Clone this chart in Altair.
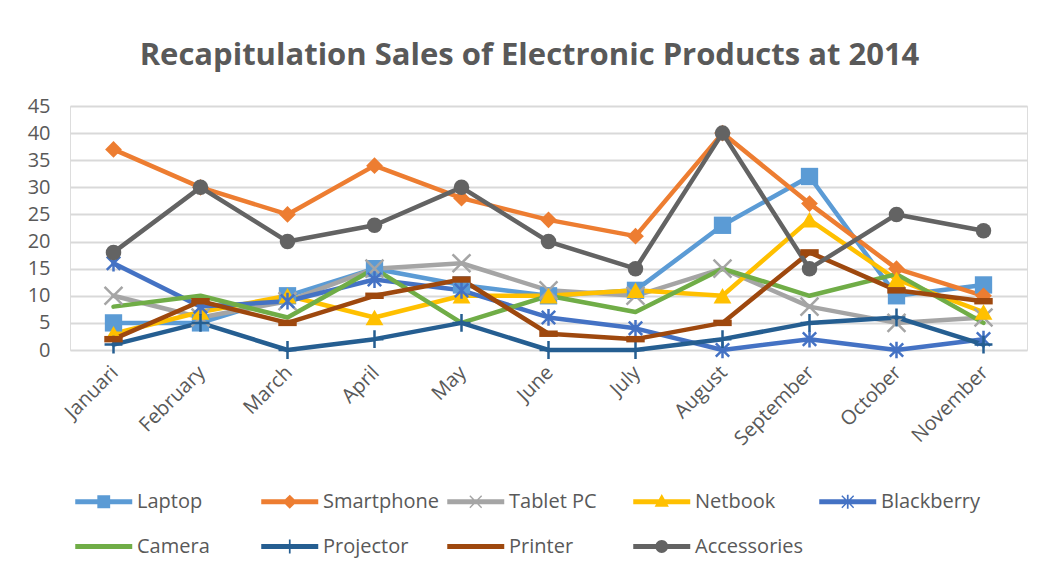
import altair as alt
import pandas as pd

months = ["Januari", "February", "March", "April", "May", "June", "July",
          "August", "September", "October", "November"]
products = ["Laptop", "Smartphone", "Tablet PC", "Netbook", "Blackberry",
            "Camera", "Projector", "Printer", "Accessories"]
colors = ["#5B9BD5", "#ED7D31", "#A5A5A5", "#FFC000", "#4472C4",
          "#70AD47", "#255E91", "#9E480E", "#636363"]

laptop = [5, 5, 10, 15, 12, 10, 11, 23, 32, 10, 12]
smartphone = [37, 30, 25, 34, 28, 24, 21, 40, 27, 15, 10]
tablet_pc = [10, 6, 9, 15, 16, 11, 10, 15, 8, 5, 6]
netbook = [3, 7, 10, 6, 10, 10, 11, 10, 24, 13, 7]
blackberry = [16, 8, 9, 13, 11, 6, 4, 0, 2, 0, 2]
camera = [8, 10, 6, 15, 5, 10, 7, 15, 10, 14, 5]
projector = [1, 5, 0, 2, 5, 0, 0, 2, 5, 6, 1]
printer = [2, 9, 5, 10, 13, 3, 2, 5, 18, 11, 9]
accessories = [18, 30, 20, 23, 30, 20, 15, 40, 15, 25, 22]

series = [laptop, smartphone, tablet_pc, netbook, blackberry,
          camera, projector, printer, accessories]

rows = []
for p, vals in zip(products, series):
    for m, v in zip(months, vals):
        rows.append({"Month": m, "Product": p, "Sales": v})
df = pd.DataFrame(rows)

FONT = "Open Sans"
TXT = "#595959"

color_scale = alt.Scale(domain=products, range=colors)
x_enc = alt.X("Month:N", sort=months,
              scale=alt.Scale(type="point", padding=0.5, domain=months),
              axis=alt.Axis(title=None, labelAngle=315, labelFontSize=20,
                            labelFont=FONT, labelColor=TXT, ticks=False,
                            domain=False, grid=False, labelPadding=12,
                            labelOffset=-6))
y_enc = alt.Y("Sales:Q", scale=alt.Scale(domain=[0, 45], nice=False),
              axis=alt.Axis(title=None, values=list(range(0, 50, 5)),
                            labelFontSize=20, labelFont=FONT, labelColor=TXT,
                            ticks=False, domain=False, grid=True,
                            gridColor="#D9D9D9", gridWidth=2, labelPadding=20))

base = alt.Chart(df)

# legend symbols: line + marker, in units of 14.25 px, spanning -1..3
LINE = "M-1,-0.17H3V0.17H-1Z"
leg_paths = {
    "Laptop": LINE + "M0.55,-0.45H1.45V0.45H0.55Z",
    "Smartphone": LINE + "M1,-0.5L1.5,0L1,0.5L0.5,0Z",
    "Tablet PC": LINE + "M0.62,-0.45L1.45,0.38L1.38,0.45L0.55,-0.38Z"
                 "M1.38,-0.45L1.45,-0.38L0.62,0.45L0.55,0.38Z",
    "Netbook": LINE + "M1,-0.55L1.5,0.35H0.5Z",
    "Blackberry": LINE + "M0.62,-0.45L1.45,0.38L1.38,0.45L0.55,-0.38Z"
                  "M1.38,-0.45L1.45,-0.38L0.62,0.45L0.55,0.38Z"
                  "M0.94,-0.5H1.06V0.5H0.94Z",
    "Camera": LINE,
    "Projector": LINE + "M0.94,-0.5H1.06V0.5H0.94Z",
    "Printer": LINE,
    "Accessories": LINE + "M0.55,0A0.45,0.45 0 1,1 1.45,0A0.45,0.45 0 1,1 0.55,0Z",
}

legend = alt.Legend(
    title=None, orient="none", legendX=5, legendY=381, columns=5,
    direction="horizontal",
    gridAlign="all", columnPadding=8, rowPadding=20,
    symbolSize=812, symbolStrokeWidth=0, symbolOpacity=1,
    labelOffset=33, labelFontSize=20, labelFont=FONT, labelColor=TXT,
    labelLimit=300,
)
leg_layer = base.transform_filter(alt.datum.Sales < -100).mark_point(
    filled=True).encode(
    x=x_enc, y=y_enc,
    color=alt.Color("Product:N", scale=color_scale, legend=legend),
    shape=alt.Shape("Product:N",
                    scale=alt.Scale(domain=products,
                                    range=[leg_paths[p] for p in products]),
                    legend=legend),
)

lines = base.mark_line(strokeWidth=4.5, strokeJoin="round", strokeCap="round").encode(
    x=x_enc, y=y_enc,
    color=alt.Color("Product:N", scale=color_scale, legend=None),
)

# marker definitions per product: (shape, filled, size, strokeWidth)
X_PATH = "M-1,-1L1,1M-1,1L1,-1"
AST_PATH = "M-0.8,-0.8L0.8,0.8M-0.8,0.8L0.8,-0.8M0,-1L0,1"
PLUS_PATH = "M0,-1L0,1M-1,0L1,0"
DASH_PATH = "M-1,-0.35H1V0.35H-1Z"
markers = {
    "Laptop": ("square", True, 300, 0),
    "Smartphone": ("diamond", True, 280, 0),
    "Tablet PC": (X_PATH, False, 320, 2.5),
    "Netbook": ("triangle-up", True, 320, 0),
    "Blackberry": (AST_PATH, False, 280, 2.5),
    "Projector": (PLUS_PATH, False, 320, 2.5),
    "Printer": (DASH_PATH, True, 340, 0),
    "Accessories": ("circle", True, 240, 0),
}

layers = [leg_layer, lines]
for p in products:
    if p not in markers:
        continue
    shp, filled, size, sw = markers[p]
    kw = dict(shape=shp, filled=filled, size=size, opacity=1)
    if not filled:
        kw["strokeWidth"] = sw
    layers.append(
        base.transform_filter(alt.datum.Product == p).mark_point(**kw).encode(
            x=x_enc, y=y_enc,
            color=alt.Color("Product:N", scale=color_scale, legend=None),
        )
    )

chart = alt.layer(*layers).properties(
    width=957, height=244,
    autosize=alt.AutoSizeParams(type="none"),
    padding={"left": 62, "top": 98, "right": 8, "bottom": 215},
    title=alt.TitleParams(
        "Recapitulation Sales of Electronic Products at 2014",
        font=FONT, fontSize=31, fontWeight="bold", color=TXT,
        anchor="middle", frame="group", offset=24, dx=-19,
    ),
).configure_view(stroke=None).configure(background="white")

chart.save("out.html", embed_options={"renderer": "svg", "actions": False})
